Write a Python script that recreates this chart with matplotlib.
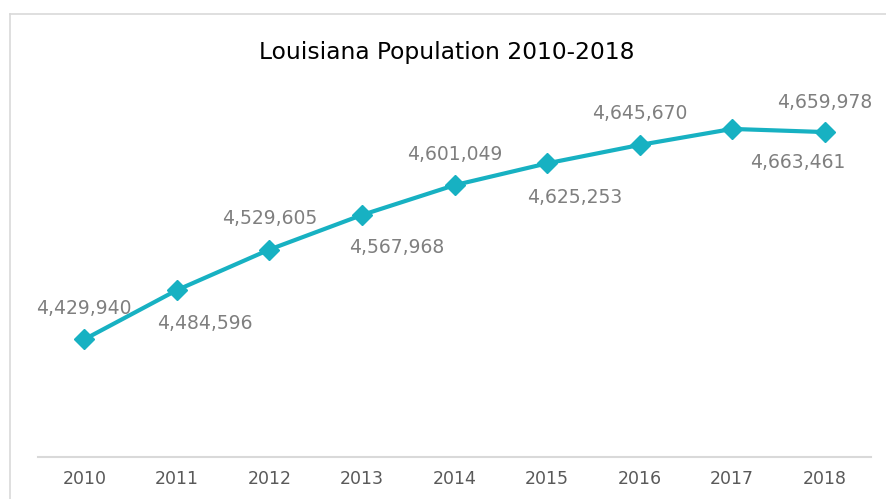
import matplotlib
matplotlib.use("Agg")
import matplotlib.pyplot as plt
from matplotlib.lines import Line2D

years = ["2010", "2011", "2012", "2013", "2014", "2015", "2016", "2017", "2018"]
population = [4429940, 4484596, 4529605, 4567968, 4601049, 4625253, 4645670, 4663461, 4659978]
# label offsets in pixels (dx, dy), as laid out on the chart
label_offsets = [(0, 31), (28, -33), (0, 31), (35, -33), (0, 31),
                 (28, -34), (0, 31), (66, -34), (0, 30)]

line_color = "#17B1C2"
label_color = "#7F7F7F"

fig = plt.figure(figsize=(8.86, 4.99), dpi=100)

# chart frame: only the left and top edges fall inside the image
bx, by = 9.5 / 886, 1 - 13.5 / 499
fig.lines.append(Line2D([bx, bx], [-0.1, by], transform=fig.transFigure,
                        color="#D9D9D9", linewidth=1.2))
fig.lines.append(Line2D([bx, 1.1], [by, by], transform=fig.transFigure,
                        color="#D9D9D9", linewidth=1.2))

ax = fig.add_axes([38 / 886, 1 - 456.5 / 499, 833 / 886, 360.5 / 499])
x = list(range(len(years)))
ax.plot(x, population, color=line_color, linewidth=3, marker="D",
        markersize=10, zorder=3)

for i, v in enumerate(population):
    dx, dy = label_offsets[i]
    ax.annotate(f"{v:,}", (i, v), xytext=(dx * 0.72, dy * 0.72),
                textcoords="offset points", ha="center", va="center",
                fontsize=13.5, color=label_color)

ax.set_xlim(-0.5, len(years) - 0.5)
ax.set_ylim(4300000, 4700000)
ax.set_xticks(x)
ax.set_xticklabels(years, fontsize=12.5, color="#595959")
ax.set_yticks([])
ax.tick_params(axis="x", length=0, pad=10)
for s in ["top", "right", "left"]:
    ax.spines[s].set_visible(False)
ax.spines["bottom"].set_color("#D9D9D9")
ax.spines["bottom"].set_linewidth(1.5)

fig.text(447 / 886, 1 - 52 / 499, "Louisiana Population 2010-2018",
         ha="center", va="center", fontsize=16.8, color="#000000")

fig.savefig("out.png", dpi=100)
